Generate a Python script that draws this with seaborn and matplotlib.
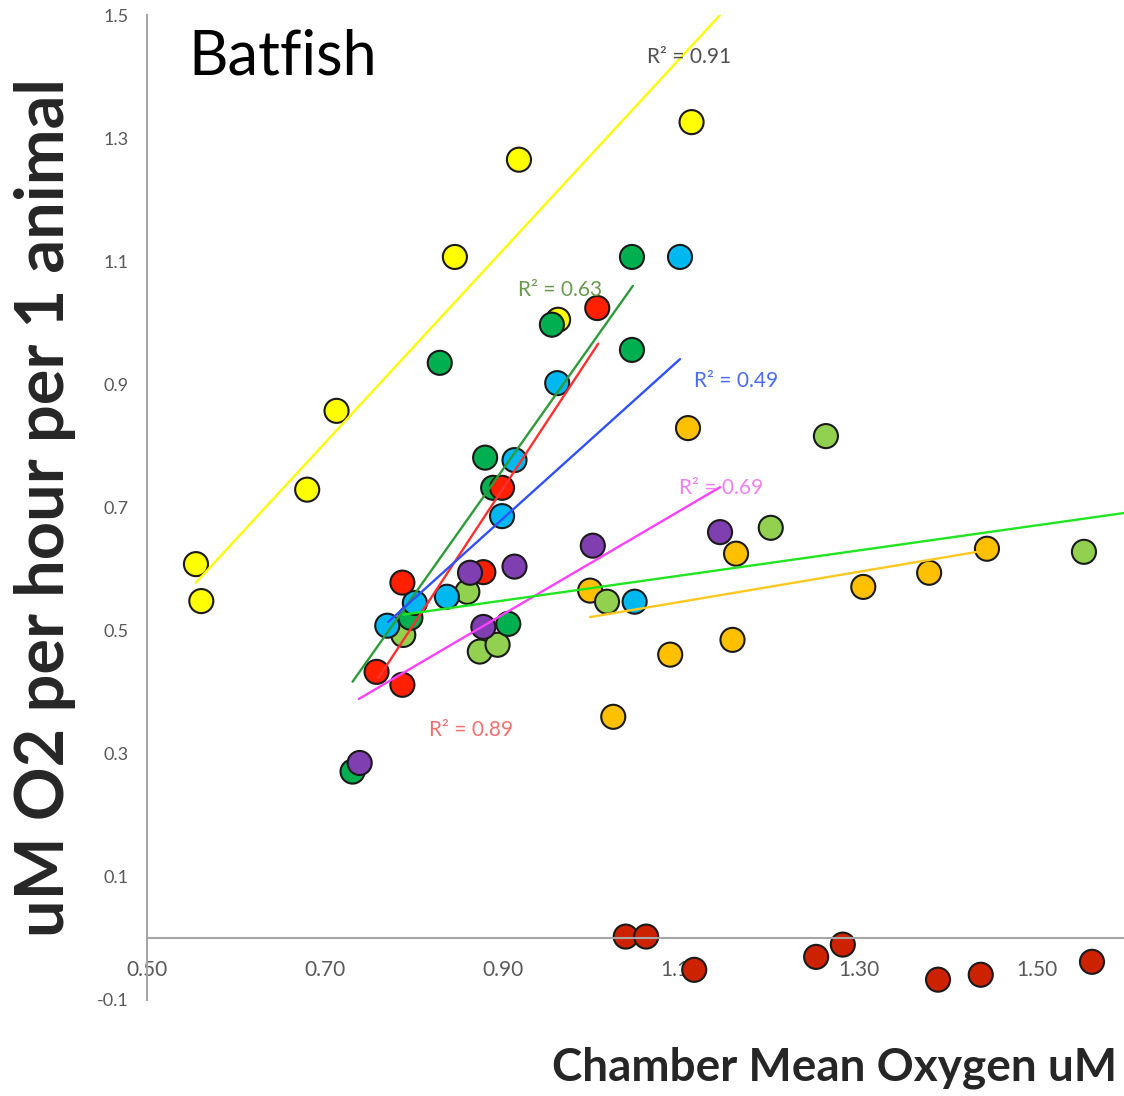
import pandas as pd
import matplotlib as mpl
mpl.use('Agg')
import matplotlib.pyplot as plt
import seaborn as sns


# Point values (x = chamber mean O2, y = uptake).
yellow_x = [0.555, 0.561, 0.680, 0.713, 0.846, 0.918, 1.112, 0.962]
yellow_y = [0.608, 0.548, 0.729, 0.857, 1.107, 1.265, 1.326, 1.005]

orange_x = [1.108, 1.162, 0.998, 1.088, 1.158, 1.024, 1.305, 1.379, 1.444]
orange_y = [0.829, 0.625, 0.565, 0.461, 0.485, 0.360, 0.571, 0.594, 0.633]

lightgreen_x = [1.263, 1.201, 1.017, 1.553, 0.860, 0.788, 0.874, 0.894]
lightgreen_y = [0.816, 0.667, 0.547, 0.628, 0.563, 0.493, 0.466, 0.477]

green_x = [0.829, 0.880, 0.889, 0.955, 1.045, 1.045, 0.906, 0.731, 0.796]
green_y = [0.935, 0.781, 0.732, 0.997, 1.107, 0.956, 0.511, 0.271, 0.521]

cyan_x = [1.099, 0.961, 0.913, 0.899, 0.837, 0.801, 0.770, 1.048]
cyan_y = [1.107, 0.902, 0.777, 0.686, 0.555, 0.545, 0.508, 0.547]

red_x = [1.006, 0.899, 0.787, 0.878, 0.758, 0.787]
red_y = [1.024, 0.732, 0.578, 0.595, 0.433, 0.412]

purple_x = [0.739, 0.863, 0.913, 0.878, 1.001, 1.144]
purple_y = [0.285, 0.594, 0.604, 0.506, 0.638, 0.660]

darkred_x = [1.038, 1.061, 1.115, 1.252, 1.282, 1.389, 1.437, 1.562]
darkred_y = [0.003, 0.003, -0.051, -0.030, -0.010, -0.067, -0.059, -0.038]

# Trendline end points as drawn in the reference.
trend_yellow_x = [0.555, 1.144]
trend_yellow_y = [0.578, 1.500]
trend_green_x = [0.731, 1.046]
trend_green_y = [0.417, 1.060]
trend_red_x = [0.760, 1.007]
trend_red_y = [0.423, 0.966]
trend_cyan_x = [0.771, 1.099]
trend_cyan_y = [0.514, 0.941]
trend_purple_x = [0.738, 1.144]
trend_purple_y = [0.389, 0.733]
trend_lightgreen_x = [0.788, 1.598]
trend_lightgreen_y = [0.526, 0.691]
trend_orange_x = [0.998, 1.433]
trend_orange_y = [0.522, 0.628]

# R squared labels.
r2_labels = ['R² = 0.91', 'R² = 0.63', 'R² = 0.49', 'R² = 0.69', 'R² = 0.89']
r2_x = [1.109, 0.964, 1.162, 1.145, 0.864]
r2_y = [1.432, 1.053, 0.906, 0.732, 0.339]

x_ticks = [0.50, 0.70, 0.90, 1.10, 1.30, 1.50]
x_tick_labels = ['0.50', '0.70', '0.90', '1.10', '1.30', '1.50']
y_ticks = [1.5, 1.3, 1.1, 0.9, 0.7, 0.5, 0.3, 0.1, -0.1]
y_tick_labels = ['1.5', '1.3', '1.1', '0.9', '0.7', '0.5', '0.3', '0.1', '-0.1']


def main():
    # Build one long table; row order is draw order.
    groups = [('yellow', yellow_x, yellow_y),
              ('orange', orange_x, orange_y),
              ('light green', lightgreen_x, lightgreen_y),
              ('green', green_x, green_y),
              ('cyan', cyan_x, cyan_y),
              ('red', red_x, red_y),
              ('purple', purple_x, purple_y),
              ('dark red', darkred_x, darkred_y)]
    rows = []
    for name, xs, ys in groups:
        for x, y in zip(xs, ys):
            rows.append({'series': name, 'x': x, 'y': y})
    data_df = pd.DataFrame(rows)

    marker_colors = {'yellow': '#ffff00', 'orange': '#ffc000', 'light green': '#92d050',
                     'green': '#00b050', 'cyan': '#00b8f0', 'red': '#ff2000',
                     'purple': '#7f3fb0', 'dark red': '#cc2200'}

    sns.set_style('white')
    plt.rcParams['font.family'] = ['Lato', 'DejaVu Sans']

    fig = plt.figure(figsize=(11.24, 10.96), dpi=100)
    ax = fig.add_axes([0.1308, 0.0876, 0.8692, 0.8987])

    sns.scatterplot(data=data_df, x='x', y='y', hue='series', palette=marker_colors,
                    s=300, edgecolor='#1a1a1a', linewidth=1.5, legend=False, ax=ax, zorder=2)

    # Trendlines on top of the markers.
    trends = [(trend_yellow_x, trend_yellow_y, '#ffff00'),
              (trend_green_x, trend_green_y, '#2e9a3a'),
              (trend_red_x, trend_red_y, '#ff3030'),
              (trend_cyan_x, trend_cyan_y, '#3050ff'),
              (trend_purple_x, trend_purple_y, '#ff40ff'),
              (trend_lightgreen_x, trend_lightgreen_y, '#20e620'),
              (trend_orange_x, trend_orange_y, '#ffc820')]
    for xs, ys, color in trends:
        sns.lineplot(x=xs, y=ys, color=color, linewidth=1.7, ax=ax, zorder=3)

    r2_colors = ['#505050', '#6a9a50', '#4a6cf0', '#f080f0', '#f07070']
    for label, x, y, color in zip(r2_labels, r2_x, r2_y, r2_colors):
        ax.text(x, y, label, color=color, fontsize=15, ha='center', va='center', zorder=4)

    # Format chart.
    ax.set_xlim(0.5, 1.598)
    ax.set_ylim(-0.1, 1.5)
    ax.spines['bottom'].set_position(('data', 0))
    ax.spines['top'].set_visible(False)
    ax.spines['right'].set_visible(False)
    for side in ['left', 'bottom']:
        ax.spines[side].set_color('#a6a6a6')
        ax.spines[side].set_linewidth(1.5)

    ax.set_xticks(x_ticks)
    ax.set_xticklabels(x_tick_labels)
    ax.set_yticks(y_ticks)
    ax.set_yticklabels(y_tick_labels)
    ax.tick_params(axis='both', direction='out', length=4.5, width=1.2,
                   color='#a6a6a6', labelcolor='#595959')
    ax.tick_params(axis='x', labelsize=15, pad=11)
    ax.tick_params(axis='y', labelsize=13, pad=9)
    ax.set_xlabel('')
    ax.set_ylabel('')

    ax.text(0.546, 1.403, 'Batfish', fontsize=44, color='black', ha='left', va='baseline')

    fig.text(0.04, 0.537, 'uM O2 per hour per 1 animal', rotation=90, fontsize=48,
             fontweight='bold', ha='center', va='center')
    fig.text(0.9938, 0.0255, 'Chamber Mean Oxygen uM', fontsize=33,
             fontweight='bold', ha='right', va='center')

    fig.savefig('out.png', dpi=100)
    plt.close(fig)


if __name__ == '__main__':
    main()
